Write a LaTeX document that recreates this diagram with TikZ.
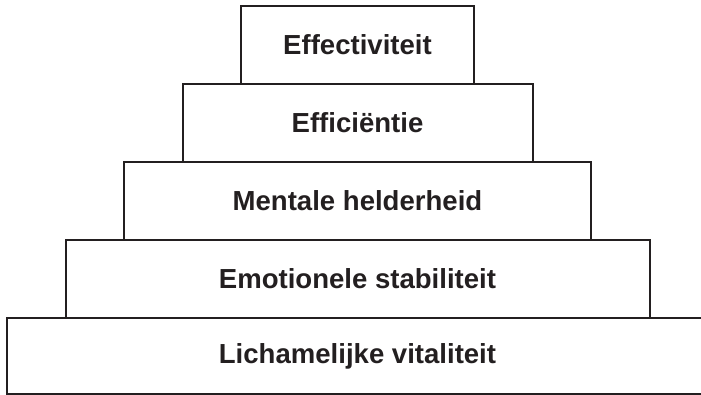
\documentclass[tikz,border=0pt]{standalone}
\usepackage{fontspec}
\setmainfont{Liberation Sans}
\usepackage{tikz}
\usetikzlibrary{positioning}
\definecolor{inkcolor}{RGB}{35, 31, 32}
\tikzset{tier/.style={draw=inkcolor, line width=0.05cm, minimum height=1.95cm, inner sep=0pt, text=inkcolor, font=\fontsize{19.6}{23}\selectfont\bfseries}}

\begin{document}
\begin{tikzpicture}
    \useasboundingbox (0, 0) rectangle (17.525, -9.875);

    % Pyramid levels, top to bottom
    \node[tier, minimum width=5.825cm] (effect) at (8.9375, -1.125) {Effectiviteit};
    \node[tier, minimum width=8.75cm] (effic) at (8.9375, -3.075) {Efficiëntie};
    \node[tier, minimum width=11.675cm] (mental) at (8.9375, -5.025) {Mentale helderheid};
    \node[tier, minimum width=14.6cm] (emotion) at (8.9375, -6.975) {Emotionele stabiliteit};
    \node[tier, minimum width=17.525cm, minimum height=1.9cm] (vital) at (8.9375, -8.9) {Lichamelijke vitaliteit};
\end{tikzpicture}
\end{document}
